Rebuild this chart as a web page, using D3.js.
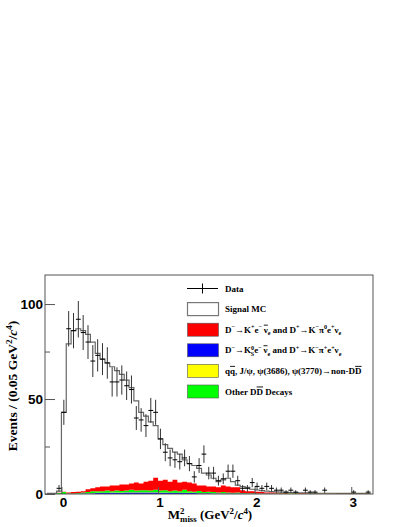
<!DOCTYPE html>
<html>
<head>
<meta charset="utf-8">
<script src="https://cdn.jsdelivr.net/npm/d3@7"></script>
<style>
  body { margin: 0; background: #fff; }
  svg { display: block; background: #fff; }
  .tick text { font-family: 'Liberation Sans', Arial, sans-serif; font-weight: bold; font-size: 13.5px; fill: #000; }
  .tick line { stroke: #555; }
  .serif { font-family: 'Liberation Serif', 'Times New Roman', serif; font-weight: bold; fill: #000; }
</style>
</head>
<body>
<div id="chart"></div>
<script>
// histogram bins, 0.05 GeV^2/c^4 wide, first bin starts at -0.15
var binW = 0.05;
var binLo = d3.range(-3, 64).map(function(k) { return k * binW; });

// data counts per bin (null = empty bin)
var dataCounts = [null, null, 3, 43, 87, 86, 92, 85, 80, 70,
  73, 71, 69, 59, 59, 60, 57, 55, 40, 39,
  36, 44, 43, 29, 22, 19, 18, 17, 19, 16,
  9, 15, 21, 11, 11, 7, 8, 12, 12, 7,
  3, 3, 6, 4, 3, 4, 3, 2, 2, 1,
  2, 1, null, 2, 1, 1, null, 2, null, null,
  null, null, null, 1, null, null, 1];
var dataErr = [null, null, 1.7, 6.6, 9.3, 9.3, 9.6, 9.2, 8.9, 8.4,
  8.5, 8.4, 8.3, 7.7, 7.7, 7.7, 7.5, 7.4, 6.3, 6.2,
  6.0, 6.6, 6.6, 5.4, 4.7, 4.4, 4.2, 4.1, 4.4, 4.0,
  3.0, 3.9, 4.6, 3.3, 3.3, 2.6, 2.8, 3.5, 3.5, 2.6,
  1.7, 1.7, 2.4, 2.0, 1.7, 2.0, 1.7, 1.4, 1.4, 1.0,
  1.4, 1.0, null, 1.4, 1.0, 1.0, null, 1.4, null, null,
  null, null, null, 1.0, null, null, 1.0];

// signal MC (outline of the full stack)
var signalTotal = [0.3, 0.3, 1.5, 43, 79, 86, 87, 86, 84, 80,
  74, 71, 69, 67, 65, 63, 60, 56, 49, 43,
  41, 38, 36, 29, 26, 24, 22, 21, 18, 16,
  15, 13.5, 11, 10, 8.3, 6.5, 7.4, 8.3, 6.5, 4.7,
  3.9, 3.5, 2.5, 2.1, 1.8, 1.5, 1.2, 1.1, 1.0, 0.9,
  0.8, 0.7, 0.6, 0.6, 0.5, 0.5, 0.4, 0.4, 0.4, 0.4,
  0.3, 0.3, 0.3, 0.3, 0.3, 0.3, 0.3];

// background components
var bkgBlue = [0, 0, 0, 0, 0, 0, 0.1, 0.2, 0.3, 0.4,
  0.5, 0.6, 0.6, 0.7, 0.7, 0.7, 0.8, 0.8, 0.8, 0.8,
  0.8, 0.8, 0.8, 0.7, 0.7, 0.6, 0.6, 0.6, 0.5, 0.5,
  0.5, 0.4, 0.4, 0.4, 0.3, 0.3, 0.3, 0.2, 0.2, 0.2,
  0.2, 0.1, 0.1, 0.1, 0.1, 0.1, 0.1, 0, 0, 0,
  0, 0, 0, 0, 0, 0, 0, 0, 0, 0,
  0, 0, 0, 0, 0, 0, 0];
var bkgYellow = [0, 0, 0, 0, 0, 0, 0, 0, 0.1, 0.1,
  0.1, 0.1, 0.1, 0.1, 0.1, 0.1, 0.1, 0.1, 0.1, 0.1,
  0.1, 0.1, 0.1, 0.1, 0.1, 0.1, 0.1, 0.1, 0.1, 0.1,
  0.1, 0.1, 0.1, 0.1, 0.1, 0.1, 0.1, 0.1, 0.1, 0.1,
  0, 0, 0, 0, 0, 0, 0, 0, 0, 0,
  0, 0, 0, 0, 0, 0, 0, 0, 0, 0,
  0, 0, 0, 0, 0, 0, 0];
var bkgGreen = [0, 0, 0.5, 1.0, 0.3, 0.3, 0.4, 0.6, 0.6, 1.0,
  0.9, 0.8, 1.1, 0.7, 1.0, 0.8, 0.9, 1.3, 0.9, 1.1,
  1.1, 0.9, 1.3, 1.0, 1.2, 0.8, 1.1, 0.8, 1.6, 0.8,
  0.6, 1.1, 0.5, 0.7, 0.6, 0.4, 0.6, 0.5, 0.3, 0.5,
  0.3, 0.3, 0.3, 0.2, 0.2, 0.2, 0.2, 0.2, 0.2, 0.2,
  0.2, 0.2, 0.15, 0.15, 0.15, 0.1, 0.1, 0.1, 0.1, 0.1,
  0.1, 0.1, 0.1, 0.1, 0.1, 0.1, 0.1];
var bkgRed = [0, 0, 0.1, 0.2, 0.5, 0.7, 0.7, 0.7, 1.5, 1.5,
  2.0, 2.5, 2.2, 3.0, 2.7, 3.4, 3.2, 3.3, 4.2, 3.5,
  4.5, 5.2, 6.3, 5.2, 5.5, 5.0, 5.7, 4.5, 4.3, 4.6,
  4.3, 2.9, 3.5, 2.8, 3.0, 2.7, 3.5, 3.2, 2.9, 2.7,
  1.5, 1.1, 1.1, 0.9, 0.7, 0.5, 0.5, 0.4, 0.3, 0.3,
  0.2, 0.2, 0.2, 0.2, 0.15, 0.15, 0.1, 0.1, 0.1, 0.1,
  0.1, 0.1, 0.1, 0.1, 0.1, 0.1, 0.1];

var stackKeys = ["blue", "yellow", "green", "red"];
var stackColors = {blue: "#0000ff", yellow: "#ffff00", green: "#00ff00", red: "#ff0000"};

var yTicks = [0, 50, 100], yMinor = [25, 75];
var xTicks = [0, 1, 2, 3];

var legendLabels = [
  [["Data"]],
  [["Signal MC"]],
  [["D"], ["\u2212", "sup"], ["\u2192K"], ["+", "sup"], ["e"], ["\u2212", "sup"], ["\u2009"], ["\u03bd", "bar"], ["e", "sub"],
   [" and D"], ["+", "sup"], ["\u2192K"], ["\u2212", "sup"], ["\u03c0"], ["0", "sup"], ["e"], ["+", "sup"], ["\u03bd"], ["e", "sub"]],
  [["D"], ["\u2212", "sup"], ["\u2192K"], ["0", "sup"], ["S", "sub", -3.3], ["e"], ["\u2212", "sup"], ["\u2009"], ["\u03bd", "bar"], ["e", "sub"],
   [" and D"], ["+", "sup"], ["\u2192K"], ["\u2212", "sup"], ["\u03c0"], ["+", "sup"], ["e"], ["+", "sup"], ["\u03bd"], ["e", "sub"]],
  [["q"], ["q", "bar"], [", J/\u03c8, \u03c8(3686), \u03c8(3770)\u2192non-D"], ["D", "bar"]],
  [["Other D"], ["D", "bar"], [" Decays"]]
];
var legendFill = [null, "#ffffff", "#ff0000", "#0000ff", "#ffff00", "#00ff00"];

// ---------------------------------------------------------------------------
var width = 407, height = 527;
var frame = {left: 45, right: 373, top: 275, bottom: 494};

var svg = d3.select("#chart").append("svg")
  .attr("width", width)
  .attr("height", height);

var x = d3.scaleLinear().domain([-0.17, 3.225]).range([frame.left, frame.right]);
var y = d3.scaleLinear().domain([0, 115.3]).range([frame.bottom, frame.top]);

svg.append("clipPath").attr("id", "frameClip")
  .append("rect")
  .attr("x", frame.left).attr("y", frame.top)
  .attr("width", frame.right - frame.left).attr("height", frame.bottom - frame.top);

var plot = svg.append("g").attr("clip-path", "url(#frameClip)");

// step points for a histogram band [lo, hi, y0, y1]
function stepPoints(lows, highs) {
  var pts = [];
  binLo.forEach(function(lo, i) {
    pts.push([lo, lows[i], highs[i]], [lo + binW, lows[i], highs[i]]);
  });
  return pts;
}

var area = d3.area()
  .x(function(d) { return x(d[0]); })
  .y0(function(d) { return y(d[1]); })
  .y1(function(d) { return y(d[2]); });
var line = d3.line()
  .x(function(d) { return x(d[0]); })
  .y(function(d) { return y(d[2]); });

// signal MC, white filled with grey outline
var zeros = binLo.map(function() { return 0; });
var sigPts = stepPoints(zeros, signalTotal);
plot.append("path").datum(sigPts)
  .attr("fill", "#fff")
  .attr("d", area);
plot.append("path").datum(sigPts)
  .attr("fill", "none")
  .attr("stroke", "#666")
  .attr("stroke-width", 1.2)
  .attr("d", line);

// stacked backgrounds
var rows = binLo.map(function(lo, i) {
  return {blue: bkgBlue[i], yellow: bkgYellow[i], green: bkgGreen[i], red: bkgRed[i]};
});
var layers = d3.stack().keys(stackKeys)(rows);
layers.forEach(function(layer) {
  var lows = layer.map(function(d) { return d[0]; });
  var highs = layer.map(function(d) { return d[1]; });
  plot.append("path").datum(stepPoints(lows, highs))
    .attr("fill", stackColors[layer.key])
    .attr("stroke", "none")
    .attr("d", area);
});

// data points with error bars
var pts = [];
binLo.forEach(function(lo, i) {
  if (dataCounts[i] != null) pts.push({lo: lo, v: dataCounts[i], e: dataErr[i]});
});
var dots = plot.append("g").selectAll("g").data(pts).enter().append("g");
dots.append("line")
  .attr("x1", function(d) { return x(d.lo + binW / 2); })
  .attr("x2", function(d) { return x(d.lo + binW / 2); })
  .attr("y1", function(d) { return y(d.v - d.e); })
  .attr("y2", function(d) { return y(d.v + d.e); })
  .attr("stroke", "#333").attr("stroke-width", 1);
dots.append("line")
  .attr("x1", function(d) { return x(d.lo); })
  .attr("x2", function(d) { return x(d.lo + binW); })
  .attr("y1", function(d) { return y(d.v); })
  .attr("y2", function(d) { return y(d.v); })
  .attr("stroke", "#000").attr("stroke-width", 1);

// axes, ticks pointing inward
var yAxis = svg.append("g")
  .attr("transform", "translate(" + frame.left + ",0)")
  .call(d3.axisLeft(y).tickValues(yTicks).tickSize(-10).tickSizeOuter(0).tickPadding(2));
yAxis.select(".domain").remove();
var yAxisMinor = svg.append("g")
  .attr("transform", "translate(" + frame.left + ",0)")
  .call(d3.axisLeft(y).tickValues(yMinor).tickSize(-5).tickSizeOuter(0).tickFormat(""));
yAxisMinor.select(".domain").remove();

var xAxis = svg.append("g")
  .attr("transform", "translate(0," + frame.bottom + ")")
  .call(d3.axisBottom(x).tickValues(xTicks).tickSize(-7).tickSizeOuter(0).tickPadding(3)
    .tickFormat(d3.format("d")));
xAxis.select(".domain").remove();
xAxis.selectAll(".tick text").attr("dx", 1.5);

// frame
svg.append("rect")
  .attr("x", frame.left).attr("y", frame.top)
  .attr("width", frame.right - frame.left).attr("height", frame.bottom - frame.top)
  .attr("fill", "none").attr("stroke", "#555").attr("stroke-width", 1);

// text with sub/superscripts and overbars
function rich(textSel, parts, fs) {
  var shift = 0;
  parts.forEach(function(p) {
    var kind = p[1] || "", target = 0, size = fs;
    if (kind == "sup") { target = -0.38 * fs; size = 0.68 * fs; }
    if (kind == "sub") { target = 0.25 * fs; size = 0.68 * fs; }
    var t = textSel.append("tspan")
      .attr("dy", target - shift)
      .style("font-size", size + "px")
      .text(p[0]);
    if (p[2]) t.attr("dx", p[2]);
    if (kind == "bar") t.style("text-decoration", "overline");
    if (kind == "it") t.style("font-style", "italic");
    shift = target;
  });
}

// axis titles
var yTitle = svg.append("text").attr("class", "serif")
  .attr("text-anchor", "middle")
  .attr("transform", "translate(17,386)rotate(-90)")
  .style("font-size", "13.5px");
rich(yTitle, [["Events / (0.05 GeV"], ["2", "sup"], ["/"], ["c", "it"], ["4", "sup"], [")"]], 13.5);

var xTitle = svg.append("text").attr("class", "serif")
  .attr("text-anchor", "middle")
  .attr("x", 210).attr("y", 519)
  .style("font-size", "13px");
rich(xTitle, [["M"], ["2", "sup"], ["miss", "sub", -4.5], [" (GeV"], ["2", "sup"], ["/"], ["c", "it"], ["4", "sup"], [")"]], 13);

// legend
var legRowY = d3.range(legendLabels.length).map(function(i) { return 288.5 + i * 20.6; });
var legend = svg.append("g");
legendLabels.forEach(function(parts, i) {
  var cy = legRowY[i];
  if (i == 0) {
    legend.append("line").attr("x1", 187).attr("x2", 218).attr("y1", cy).attr("y2", cy)
      .attr("stroke", "#000").attr("stroke-width", 1);
    legend.append("line").attr("x1", 202.5).attr("x2", 202.5).attr("y1", cy - 5).attr("y2", cy + 5)
      .attr("stroke", "#000").attr("stroke-width", 1);
  } else {
    legend.append("rect")
      .attr("x", 187.5).attr("y", cy - 6.5)
      .attr("width", 31).attr("height", 13)
      .attr("fill", legendFill[i])
      .attr("stroke", i == 1 ? "#777" : "#555")
      .attr("stroke-width", i == 1 ? 1.2 : 0.6);
  }
  var t = legend.append("text").attr("class", "serif")
    .attr("x", 225).attr("y", cy + 3)
    .style("font-size", "9px");
  rich(t, parts, 9);
});
</script>
</body>
</html>
